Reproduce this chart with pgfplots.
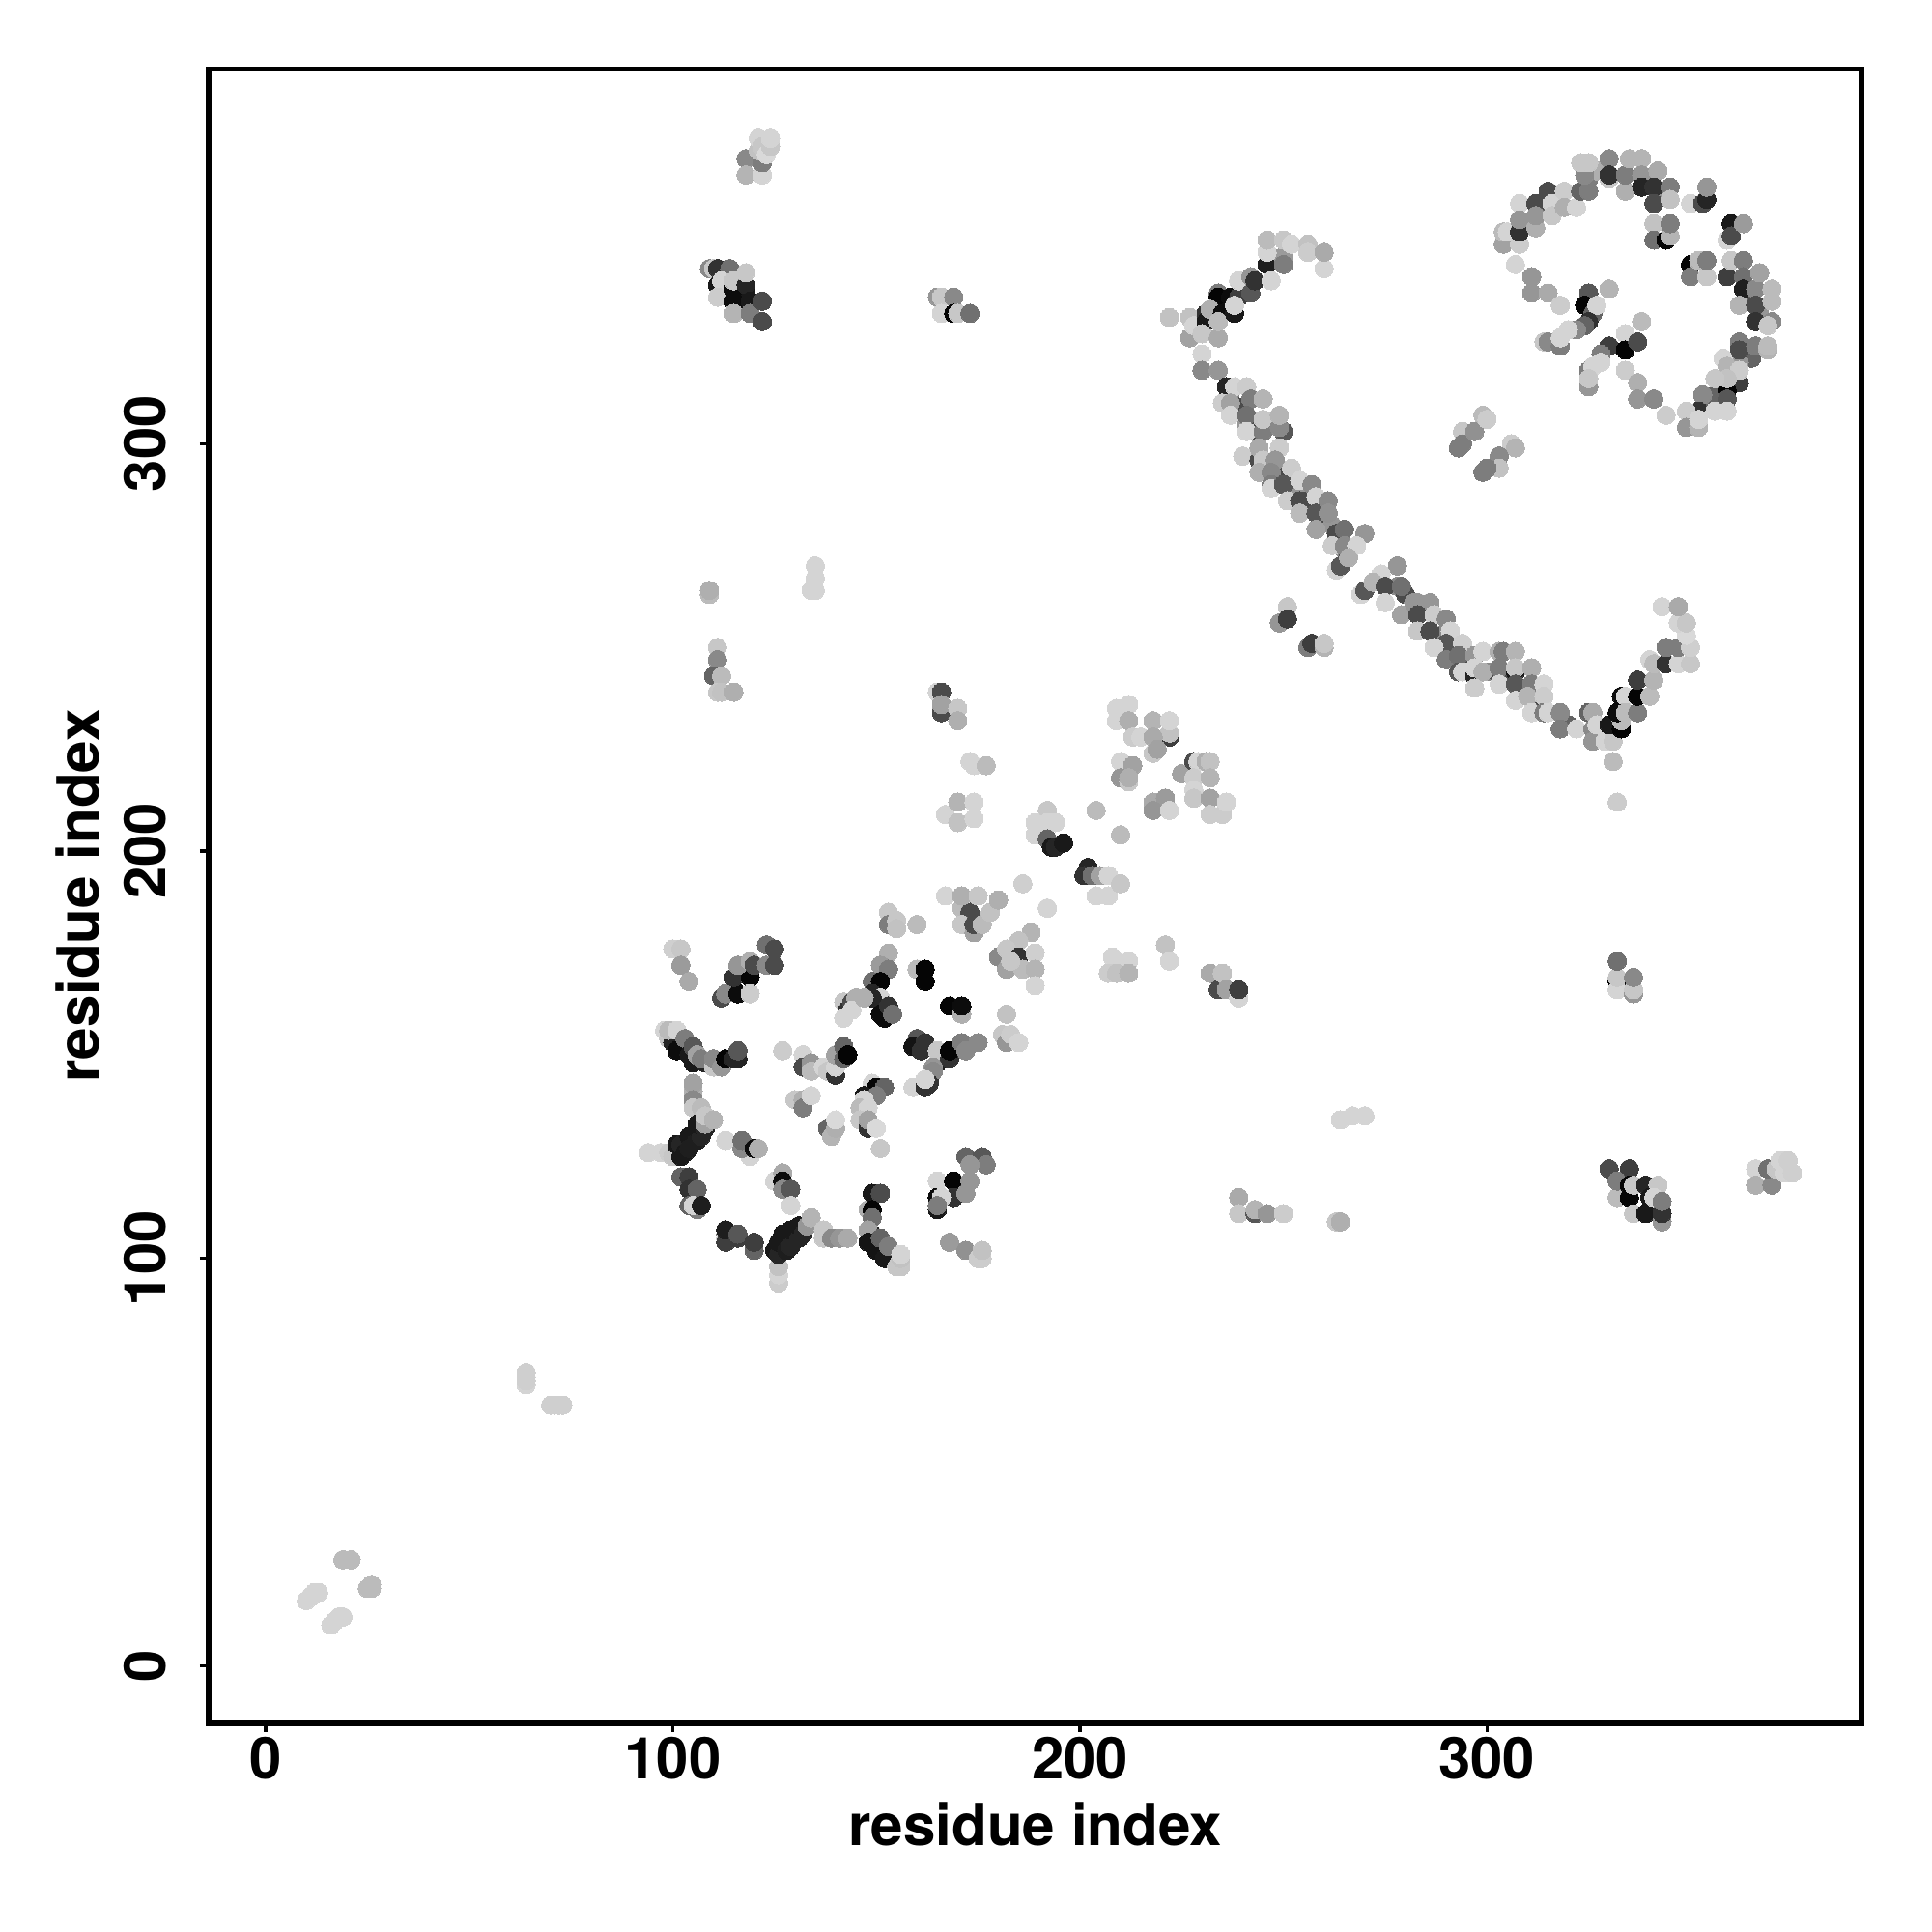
\documentclass[border=0pt]{standalone}
\usepackage{fontspec}
\setmainfont{TeX Gyre Heros}
\usepackage{pgfplots}
\pgfplotsset{compat=1.18}
\begin{document}
\begin{tikzpicture}
\path[use as bounding box] (0,0) rectangle (20,20);
\begin{axis}[
  at={(2.16cm,2.16cm)}, anchor=south west,
  scale only axis, width=17.11cm, height=17.126cm,
  xmin=-14, xmax=392, ymin=-14.1, ymax=392,
  xtick={0,100,200,300}, ytick={0,100,200,300},
  tick pos=left, tick align=outside,
  major tick length=0.09cm,
  every tick/.style={black,line width=0.033cm},
  axis line style={line width=0.055cm},
  /pgf/number format/assume math mode=true,
  tick label style={font=\fontsize{17}{20}\selectfont\bfseries},
  xticklabel style={anchor=center,yshift=-0.27cm},
  yticklabel style={anchor=center,rotate=90,yshift=0.565cm},
  xlabel={residue index}, ylabel={residue index},
  label style={font=\fontsize{17.1}{20}\selectfont\bfseries},
  xlabel style={at={(axis description cs:0.5,0)},anchor=center,yshift=-1.045cm},
  ylabel style={at={(axis description cs:0,0.5)},anchor=center,yshift=1.36cm},
  colormap={bw}{gray(0cm)=(0);gray(1cm)=(1)},
  point meta min=0, point meta max=1.03,
]
\addplot[only marks, scatter, scatter src=explicit, mark=*, mark size=0.095cm,
  mark options={line width=0pt},
  scatter/use mapped color={draw=mapped color,fill=mapped color}]
  table[x index=0,y index=1,meta index=2,row sep=\\,header=false] {
237 311 .55\\ 239 309 .3\\ 241 305 .6\\ 243 303 .3\\ 250 303 .35\\ 244 297 .55\\ 246 295 .3\\ 248 293 .55\\ 250 292 .3\\ 254 288 .6\\ 256 286 .3\\ 259 285 .55\\ 260 282 .3\\ 262 280 .6\\ 263 278 .3\\ 265 274 .55\\ 266 273 .3\\ 278 265 .55\\ 280 263 .3\\ 283 261 .6\\ 285 259 .3\\ 289 253 .55\\ 291 250 .3\\ 294 247 .6\\ 295 245 .3\\ 301 244 .55\\ 303 243 .3\\ 310 240 .6\\ 312 238 .3\\ 318 234 .55\\ 320 231 .4\\
313 359 .4\\ 316 361 .6\\ 325 365 .5\\ 327 367 .7\\ 340 364 .4\\ 343 361 .6\\ 365 336 .4\\ 367 333 .6\\ 365 321 .4\\ 362 320 .6\\ 356 312 .4\\ 353 309 .6\\ 117 335 .05\\ 118 337 .1\\ 116 338 .1\\
10 16 .85\\ 11 17 .85\\ 12 18 .85\\ 13 18 .85\\ 16 10 .85\\ 17 11 .85\\ 18 12 .85\\ 19 12 .85\\
19 26 .75\\ 21 26 .75\\ 25 19 .75\\ 26 19 .75\\ 26 20 .75\\
64 69 .85\\ 64 70 .83\\ 64 71 .83\\ 64 72 .83\\ 70 64 .83\\ 71 64 .83\\ 72 64 .83\\ 73 64 .83\\
100 176 .83\\ 102 176 .8\\ 102 172 .62\\ 104 168 .68\\
112 164 .3\\ 113 165 .55\\ 116 165 .05\\ 115 169 .2\\ 119 169 .02\\ 119 165 .82\\ 116 172 .6\\ 119 173 .7\\ 120 172 .3\\ 123 172 .55\\ 123 177 .45\\ 125 176 .3\\ 125 172 .3\\
98 156 .85\\ 99 154 .8\\ 100 153 .15\\ 99 156 .75\\ 101 156 .85\\ 101 151 .05\\ 103 154 .5\\ 104 150 .1\\ 105 152 .35\\ 105 148 .1\\ 106 150 .65\\ 108 148 .15\\ 107 149 .5\\ 110 147 .8\\ 110 149 .55\\ 112 147 .6\\ 113 149 .02\\ 115 149 .15\\ 116 149 .15\\ 116 151 .35\\
105 141 .7\\ 105 143 .65\\ 105 139 .55\\ 105 137 .8\\ 107 137 .75\\
94 126 .85\\ 97 126 .85\\ 99 126 .82\\ 100 125 .8\\ 102 125 .1\\ 101 128 .1\\ 102 128 .15\\ 103 126 .1\\ 104 130 .1\\ 104 127 .12\\ 106 129 .12\\ 106 132 .1\\ 107 130 .15\\ 106 133 .1\\ 108 132 .15\\ 108 133 .65\\ 108 135 .8\\ 110 134 .72\\
113 129 .85\\ 119 125 .85\\ 117 127 .55\\ 117 129 .45\\ 120 127 .05\\ 121 127 .7\\
102 120 .4\\ 104 120 .25\\ 104 117 .2\\ 106 117 .4\\ 106 112 .5\\ 104 113 .4\\ 105 113 .85\\ 107 113 .12\\
113 106 .5\\ 113 105 .85\\ 113 104 .25\\ 113 107 .12\\ 116 105 .25\\ 116 106 .35\\ 120 102 .4\\ 120 104 .25\\
126 94 .82\\ 126 96 .85\\ 126 98 .78\\ 125 102 .1\\ 126 101 .15\\ 126 104 .1\\ 128 102 .12\\ 127 106 .1\\ 129 103 .15\\ 129 107 .1\\ 131 105 .15\\ 131 108 .1\\ 132 106 .15\\ 133 108 .6\\ 134 110 .72\\
137 105 .8\\ 137 107 .8\\ 139 105 .55\\ 141 105 .6\\ 143 105 .68\\
125 119 .85\\ 127 121 .68\\ 127 119 .05\\ 127 117 .55\\ 129 117 .35\\ 129 113 .85\\
148 112 .7\\ 149 116 .1\\ 151 116 .3\\ 149 112 .02\\ 149 110 .45\\ 149 106 .15\\ 148 107 .65\\ 148 104 .08\\ 150 102 .08\\ 151 105 .4\\ 152 100 .1\\ 153 103 .5\\ 155 98 .8\\ 156 98 .8\\ 156 100 .78\\ 156 101 .85\\
172 125 .4\\ 176 125 .35\\ 177 123 .5\\ 173 123 .6\\ 165 119 .85\\ 169 119 .02\\ 173 119 .6\\ 169 115 .2\\ 172 116 .6\\ 165 115 .05\\ 166 115 .85\\ 165 112 .1\\ 165 113 .5\\
168 104 .62\\ 172 102 .58\\ 175 100 .82\\ 176 100 .82\\ 176 102 .78\\
160 154 .35\\ 159 152 .08\\ 162 153 .2\\ 161 151 .2\\ 165 148 .12\\ 165 151 .8\\ 168 149 .2\\ 168 151 .02\\ 171 153 .5\\ 172 151 .55\\ 175 153 .55\\ 164 147 .6\\ 163 144 .2\\ 164 146 .55\\ 163 143 .2\\ 159 142 .85\\ 162 142 .2\\ 162 144 .85\\
153 175 .7\\ 151 172 .62\\ 153 171 .5\\ 149 168 .45\\ 151 168 .02\\ 149 165 .15\\ 151 164 .85\\ 149 164 .15\\ 142 163 .8\\ 143 161 .2\\ 142 159 .85\\ 144 163 .3\\ 145 164 .7\\ 144 161 .85\\ 147 164 .7\\ 151 160 .05\\ 152 159 .05\\ 153 162 .2\\ 154 160 .45\\
160 171 .75\\ 162 171 .02\\ 162 168 .02\\ 168 162 .02\\ 171 160 .7\\ 171 162 .05\\
182 160 .78\\ 181 155 .8\\ 182 153 .6\\ 183 155 .82\\ 185 153 .85\\
127 151 .82\\ 132 150 .85\\ 132 147 .3\\ 134 148 .6\\ 134 146 .75\\ 137 147 .85\\ 138 146 .8\\ 140 145 .2\\ 140 147 .85\\ 140 150 .65\\ 142 152 .4\\ 142 149 .4\\ 143 150 .02\\
130 139 .8\\ 132 139 .7\\ 132 137 .5\\ 134 140 .85\\
149 143 .85\\ 150 142 .02\\ 152 142 .4\\ 147 140 .1\\ 150 140 .5\\ 147 139 .85\\ 146 137 .75\\ 148 137 .85\\ 146 134 .8\\ 148 132 .2\\ 148 134 .65\\ 150 132 .87\\ 151 127 .8\\
138 132 .4\\ 139 130 .72\\ 140 132 .7\\ 140 134 .87\\
153 185 .8\\ 153 182 .5\\ 155 183 .8\\ 155 181 .78\\ 160 182 .75\\
167 189 .85\\ 171 189 .72\\ 175 189 .85\\ 180 188 .72\\ 171 186 .75\\ 173 185 .3\\ 171 182 .8\\ 174 180 .65\\ 174 182 .3\\ 176 182 .75\\ 178 185 .78\\ 192 186 .8\\
188 180 .72\\ 185 178 .78\\ 180 174 .55\\ 182 176 .8\\ 182 171 .65\\ 185 174 .2\\ 186 171 .75\\ 189 175 .83\\ 189 171 .72\\ 189 167 .85\\ 183 173 .8\\
165 239 .85\\ 166 239 .3\\ 166 234 .3\\ 166 236 .65\\ 170 235 .8\\ 170 232 .7\\
173 222 .85\\ 174 221 .85\\ 177 221 .75\\ 167 209 .85\\ 170 212 .72\\ 174 212 .85\\ 170 207 .78\\ 174 208 .85\\
192 210 .8\\ 189 207 .85\\ 189 204 .85\\ 192 207 .85\\ 194 207 .85\\ 192 203 .4\\ 193 201 .1\\ 194 201 .15\\ 196 202 .1\\
204 210 .75\\ 210 204 .75\\ 202 196 .15\\ 201 194 .2\\ 203 194 .45\\ 205 194 .65\\ 204 189 .85\\ 207 189 .85\\ 207 194 .85\\ 210 192 .8\\ 186 192 .83\\ 192 186 .85\\
167 189 .85\\ 171 189 .7\\ 175 189 .8\\ 180 188 .7\\
208 174 .85\\ 212 173 .85\\ 207 170 .82\\ 209 170 .78\\ 212 170 .72\\ 221 177 .78\\ 222 173 .85\\ 232 170 .68\\ 235 170 .78\\
209 235 .85\\ 212 236 .85\\ 209 232 .85\\ 212 232 .7\\ 213 228 .82\\ 215 228 .85\\ 218 232 .72\\ 222 228 .25\\ 222 229 .78\\ 222 232 .85\\ 218 228 .68\\ 218 224 .8\\ 219 225 .65\\
210 222 .85\\ 213 221 .65\\ 210 218 .6\\ 212 217 .8\\ 212 218 .7\\
225 219 .65\\ 228 222 .3\\ 229 222 .85\\ 231 222 .7\\ 232 222 .78\\ 228 218 .82\\ 232 218 .72\\ 228 215 .85\\ 228 213 .8\\
218 212 .68\\ 221 213 .62\\ 218 210 .6\\ 222 210 .85\\ 232 213 .65\\ 232 209 .82\\ 235 209 .82\\ 236 212 .85\\
222 331 .78\\ 227 326 .65\\ 227 331 .78\\ 228 329 .85\\ 231 332 .2\\ 231 330 .1\\ 230 327 .8\\ 234 326 .68\\ 230 322 .85\\ 230 318 .55\\ 234 318 .6\\ 234 337 .5\\ 234 336 .02\\ 232 333 .7\\ 235 332 .05\\ 234 330 .75\\
237 336 .05\\ 239 336 .25\\ 238 332 .1\\ 238 334 .85\\ 239 340 .2\\ 239 340 .85\\ 242 337 .35\\ 242 341 .6\\ 243 340 .2\\ 246 344 .12\\ 247 340 .85\\ 250 346 .62\\ 250 344 .5\\ 246 347 .85\\ 246 350 .75\\ 250 350 .8\\ 252 349 .85\\ 256 349 .78\\ 256 347 .82\\ 260 343 .85\\ 260 347 .68\\
236 314 .15\\ 238 314 .85\\ 241 314 .82\\ 235 310 .82\\ 237 310 .65\\ 242 311 .5\\ 245 311 .72\\ 237 307 .85\\ 241 307 .45\\ 241 303 .85\\ 245 303 .5\\ 245 306 .8\\ 249 304 .55\\ 249 307 .72\\ 249 299 .82\\
240 297 .82\\ 244 296 .3\\ 244 299 .68\\ 245 296 .8\\ 248 296 .6\\ 244 293 .7\\ 247 293 .55\\ 247 290 .5\\ 247 289 .85\\ 252 294 .82\\ 250 290 .35\\ 251 286 .82\\ 254 291 .85\\ 254 286 .3\\ 254 283 .75\\ 257 290 .55\\ 258 287 .85\\ 258 283 .35\\ 261 286 .55\\ 261 283 .58\\ 258 279 .65\\ 265 279 .45\\ 270 278 .6\\ 262 275 .82\\ 265 275 .55\\ 268 275 .85\\ 263 269 .85\\ 264 270 .35\\ 266 272 .7\\
278 270 .6\\ 274 268 .85\\ 269 263 .85\\ 270 264 .35\\ 272 266 .72\\ 275 265 .3\\ 279 265 .45\\ 275 261 .85\\ 279 258 .65\\ 282 261 .6\\ 286 261 .6\\ 283 258 .3\\ 287 258 .82\\ 290 257 .55\\ 283 254 .8\\ 286 254 .3\\ 291 254 .85\\ 290 251 .35\\ 287 250 .85\\ 294 251 .83\\
251 260 .8\\ 249 256 .6\\ 251 257 .25\\ 256 250 .5\\ 257 251 .25\\ 260 250 .72\\ 260 251 .8\\
290 247 .5\\ 293 248 .45\\ 297 248 .6\\ 299 249 .85\\ 293 244 .35\\ 294 244 .85\\ 297 243 .15\\ 297 245 .85\\ 299 244 .7\\ 297 240 .82\\ 303 249 .7\\ 304 249 .5\\ 307 249 .72\\ 303 245 .5\\ 303 241 .85\\ 307 244 .1\\ 307 245 .8\\ 307 241 .35\\ 307 237 .85\\ 311 245 .7\\ 311 241 .5\\ 314 241 .85\\ 310 238 .72\\ 314 238 .82\\ 311 234 .85\\ 314 234 .5\\ 315 234 .85\\ 318 234 .55\\ 318 230 .5\\ 322 230 .85\\ 325 234 .4\\ 326 234 .68\\ 326 230 .55\\ 326 227 .6\\ 327 231 .85\\ 329 227 .85\\ 331 227 .8\\ 331 222 .75\\ 332 212 .82\\
330 231 .1\\ 333 230 .02\\ 333 232 .75\\ 332 234 .05\\ 333 238 .05\\ 334 238 .85\\ 334 234 .75\\ 337 234 .5\\ 337 238 .02\\ 337 242 .25\\ 340 238 .2\\ 340 238 .75\\ 341 242 .72\\ 340 247 .85\\ 341 246 .75\\ 344 246 .2\\ 344 250 .5\\ 347 246 .85\\ 347 250 .5\\ 350 246 .8\\ 350 250 .83\\ 349 253 .87\\ 347 256 .85\\ 349 256 .8\\ 343 260 .85\\ 347 260 .68\\
294 303 .8\\ 293 299 .5\\ 294 300 .5\\ 297 303 .58\\ 299 307 .75\\ 300 306 .82\\ 306 300 .82\\ 307 299 .72\\ 303 297 .55\\ 303 294 .78\\ 299 293 .5\\ 300 294 .5\\
304 349 .65\\ 304 352 .75\\ 305 352 .85\\ 308 349 .82\\ 308 352 .2\\ 308 359 .85\\ 308 355 .6\\ 312 353 .7\\ 312 359 .3\\ 312 356 .6\\ 315 362 .3\\ 316 359 .85\\ 316 356 .8\\ 319 362 .82\\ 319 358 .7\\ 322 358 .85\\ 323 362 .4\\ 325 362 .5\\ 324 366 .55\\ 323 369 .8\\ 325 369 .8\\
330 370 .55\\ 330 365 .8\\ 330 366 .2\\ 334 362 .7\\ 334 366 .5\\ 335 370 .72\\ 338 370 .72\\ 338 366 .6\\ 338 363 .15\\ 342 367 .68\\ 341 363 .2\\ 345 363 .5\\ 341 359 .3\\ 345 360 .78\\ 350 359 .85\\ 353 359 .3\\ 354 360 .15\\ 354 363 .6\\
341 354 .78\\ 341 350 .45\\ 344 350 .02\\ 345 351 .72\\ 345 354 .5\\
360 354 .1\\ 359 350 .85\\ 360 351 .3\\ 363 354 .62\\
350 344 .02\\ 350 341 .5\\ 352 345 .75\\ 354 341 .8\\ 354 345 .5\\
359 341 .25\\ 360 345 .8\\ 363 345 .5\\ 363 341 .45\\ 363 338 .12\\ 362 334 .72\\ 366 338 .55\\ 367 342 .65\\ 366 334 .3\\ 366 330 .2\\ 370 330 .55\\ 370 335 .75\\ 370 338 .75\\ 369 329 .8\\
362 325 .5\\ 362 323 .3\\ 366 324 .5\\ 369 323 .72\\ 369 324 .75\\ 358 321 .85\\ 359 319 .72\\ 362 315 .25\\ 362 318 .82\\ 359 313 .02\\ 359 316 .78\\ 355 311 .4\\ 353 312 .55\\ 359 311 .35\\ 356 316 .8\\
352 308 .2\\ 349 308 .82\\ 356 308 .85\\ 359 308 .85\\ 349 304 .6\\ 352 304 .72\\ 352 306 .85\\ 344 307 .82\\
307 344 .85\\ 311 341 .6\\ 311 337 .6\\ 315 337 .68\\ 318 334 .82\\
330 338 .72\\ 325 337 .35\\ 324 334 .02\\ 326 332 .4\\ 327 334 .85\\ 325 330 .2\\ 324 329 .4\\ 322 328 .55\\ 314 325 .8\\ 315 325 .55\\ 318 324 .5\\ 318 326 .85\\ 320 328 .85\\
338 330 .75\\ 334 327 .85\\ 330 324 .25\\ 334 323 .02\\ 337 325 .3\\ 328 322 .5\\ 325 318 .5\\ 326 319 .85\\ 325 314 .6\\ 325 316 .8\\ 328 320 .85\\
334 318 .82\\ 337 315 .7\\ 337 311 .6\\ 341 311 .55\\
118 370 .55\\ 118 366 .72\\ 122 366 .85\\ 122 369 .5\\ 121 372 .78\\ 121 375 .85\\ 122 373 .8\\ 123 371 .87\\ 124 373 .8\\ 124 375 .85\\
109 343 .55\\ 110 343 .8\\ 111 343 .2\\ 114 343 .45\\ 111 339 .1\\ 112 340 .85\\ 111 336 .82\\ 115 338 .05\\ 115 340 .8\\ 118 339 .15\\ 118 342 .8\\ 115 335 .05\\ 119 335 .1\\ 115 332 .72\\ 119 332 .5\\ 122 335 .3\\ 122 330 .3\\
165 336 .6\\ 166 336 .8\\ 169 336 .55\\ 166 332 .85\\ 169 332 .02\\ 170 332 .8\\ 173 332 .45\\
332 168 .02\\ 332 166 .85\\ 332 169 .8\\ 332 173 .45\\ 336 165 .6\\ 336 166 .8\\ 336 169 .55\\
330 122 .3\\ 335 122 .25\\ 332 115 .75\\ 332 119 .5\\ 335 118 .02\\ 335 115 .02\\ 336 118 .8\\ 339 118 .15\\ 342 118 .8\\ 336 111 .8\\ 339 111 .1\\ 340 115 .1\\ 341 115 .85\\ 343 109 .6\\ 343 111 .2\\ 343 114 .5\\
366 122 .85\\ 366 118 .7\\ 370 118 .55\\ 369 122 .45\\ 371 122 .8\\ 372 124 .85\\ 373 121 .85\\ 374 124 .83\\ 375 121 .83\\
234 166 .3\\ 235 170 .78\\ 236 166 .65\\ 239 164 .85\\ 239 166 .25\\
264 134 .85\\ 267 135 .85\\ 270 135 .85\\ 239 115 .68\\ 239 111 .8\\ 243 111 .35\\ 243 112 .72\\ 246 111 .6\\ 250 111 .82\\ 263 109 .8\\ 264 109 .7\\
109 263 .75\\ 109 264 .7\\ 135 270 .85\\ 135 267 .85\\ 134 264 .85\\ 135 264 .85\\
111 250 .8\\ 111 247 .55\\ 110 243 .4\\ 112 243 .75\\ 111 239 .8\\ 112 239 .78\\ 115 239 .7\\
};
\end{axis}
\end{tikzpicture}
\end{document}
